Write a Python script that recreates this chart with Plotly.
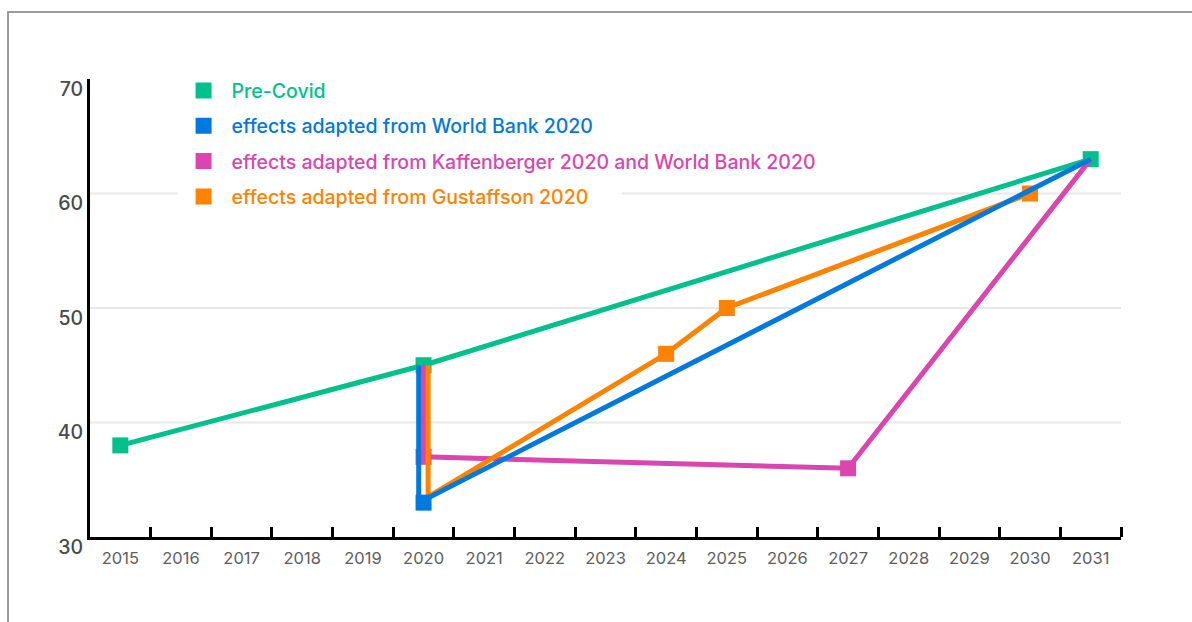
import plotly.graph_objects as go

# ---- data -------------------------------------------------------------
year_ticks = list(range(2015, 2032))
year_labels = [str(y) for y in year_ticks]
value_ticks = [30, 40, 50, 60, 70]

pre_covid_years = [2015, 2020, 2031]
pre_covid_vals = [38, 45, 63]

world_bank_years = [2020, 2020, 2031]
world_bank_vals = [45, 33, 63]

kaffenberger_years = [2020, 2020, 2027, 2031]
kaffenberger_vals = [45, 37, 36, 63]

gustaffson_years = [2020, 2020, 2024, 2025, 2030]
gustaffson_vals = [45, 33.5, 46, 50, 60]

# ---- styling ----------------------------------------------------------
GREEN = "#00C18B"
BLUE = "#0079DF"
PINK = "#DB45B0"
ORANGE = "#FF8200"
FONT = "Inter"

series = [
    # name, years, values, colour, x-shift of the 2020 drop line, indices with markers
    ("Pre-Covid", pre_covid_years, pre_covid_vals, GREEN, 0.0, [0, 1, 2]),
    ("effects adapted from Kaffenberger 2020 and World Bank 2020",
     kaffenberger_years, kaffenberger_vals, PINK, 0.0, [1, 2]),
    ("effects adapted from Gustaffson 2020",
     gustaffson_years, gustaffson_vals, ORANGE, 0.075, [2, 3, 4]),
    ("effects adapted from World Bank 2020",
     world_bank_years, world_bank_vals, BLUE, -0.08, [1]),
]
legend_order = {
    "Pre-Covid": 1,
    "effects adapted from World Bank 2020": 2,
    "effects adapted from Kaffenberger 2020 and World Bank 2020": 3,
    "effects adapted from Gustaffson 2020": 4,
}

fig = go.Figure()

for name, xs, ys, color, shift, marked in series:
    # drop lines at 2020 are nudged sideways so overlapping series stay visible
    line_x = [x + shift if x == 2020 else x for x in xs]
    fig.add_trace(go.Scatter(
        x=line_x, y=ys, mode="lines",
        line=dict(color=color, width=5),
        showlegend=False, hoverinfo="skip",
    ))
    fig.add_trace(go.Scatter(
        x=[xs[i] for i in marked], y=[ys[i] for i in marked],
        mode="markers",
        marker=dict(symbol="square", size=16, color=color),
        name=f"<span style='color:{color}'>{name}</span>",
        legendgroup=name, legendrank=legend_order[name],
        showlegend=True,
    ))

# light horizontal guides for the inner value ticks
shapes = []
for v in value_ticks[1:-1]:
    shapes.append(dict(
        type="line", xref="paper", yref="y", x0=0, x1=1, y0=v, y1=v,
        line=dict(color="#E8E8E8", width=2), layer="below",
    ))
# white backing behind the last legend row
shapes.append(dict(
    type="rect", xref="paper", yref="paper",
    x0=0.085, x1=0.516, y0=0.72, y1=0.77,
    fillcolor="white", line=dict(width=0), layer="below",
))
# outer frame
shapes.append(dict(
    type="rect", xref="paper", yref="paper",
    x0=-0.0795, x1=1.2, y0=-0.3, y1=1.1463,
    line=dict(color="#9A9A9A", width=2), fillcolor="rgba(0,0,0,0)",
))

fig.update_layout(
    width=1192, height=622,
    margin=dict(l=90, r=71, t=79, b=85),
    paper_bgcolor="white", plot_bgcolor="white",
    font=dict(family=FONT, color="#555555"),
    shapes=shapes,
    showlegend=True,
    legend=dict(
        x=0.083, y=1.017, xanchor="left", yanchor="top",
        bgcolor="rgba(0,0,0,0)",
        font=dict(family=FONT, size=19.5, weight=500),
        itemwidth=46, tracegroupgap=7,
        traceorder="grouped",
    ),
    xaxis=dict(
        range=[2014.5, 2031.5],
        tickvals=year_ticks, ticktext=year_labels,
        ticks="", showgrid=False, zeroline=False,
        showline=True, linecolor="black", linewidth=3,
        tickfont=dict(family=FONT, size=16.5, color="#5E5E5E"),
        ticklabelstandoff=4,
        minor=dict(
            tickvals=[y + 0.5 for y in year_ticks],
            ticks="inside", ticklen=10, tickwidth=2.5,
            tickcolor="black", showgrid=False,
        ),
        fixedrange=True,
    ),
    yaxis=dict(
        range=[30, 70],
        tickvals=value_ticks, ticktext=[str(v) for v in value_ticks],
        ticks="", showgrid=False, zeroline=False,
        showline=True, linecolor="black", linewidth=3,
        tickfont=dict(family=FONT, size=19.5, color="#4A4A4A", weight=500),
        ticklabelshift=10, ticklabelstandoff=0,
        fixedrange=True,
    ),
)

fig.write_html("out.html")
